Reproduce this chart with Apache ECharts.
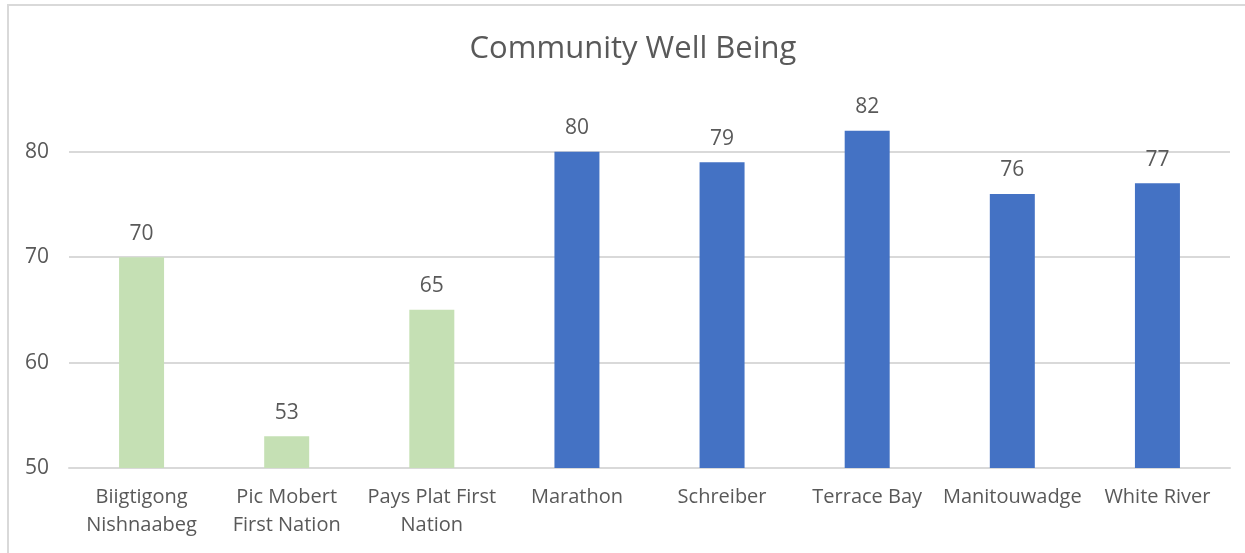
<!DOCTYPE html>
<html>
<head>
<meta charset="utf-8">
<script src="https://cdn.jsdelivr.net/npm/echarts@6/dist/echarts.min.js"></script>
<style>
  html, body { margin: 0; padding: 0; background: #ffffff; }
  #chart { width: 1245px; height: 553px; }
</style>
</head>
<body>
<div id="chart"></div>
<script>
// Community Well Being scores by community
const communities = [
  'Biigtigong\nNishnaabeg',
  'Pic Mobert\nFirst Nation',
  'Pays Plat First\nNation',
  'Marathon',
  'Schreiber',
  'Terrace Bay',
  'Manitouwadge',
  'White River'
];
const scores = [70, 53, 65, 80, 79, 82, 76, 77];
// First Nations communities are drawn in green, the others in blue
const isFirstNation = [true, true, true, false, false, false, false, false];
const yTicks = [50, 60, 70, 80];

const GREEN = '#C5E0B4';
const BLUE = '#4472C4';
const TEXT = '#595959';
const FONT = '"Open Sans", sans-serif';

const chart = echarts.init(document.getElementById('chart'));

chart.setOption({
  animation: false,
  backgroundColor: '#ffffff',
  graphic: [{
    type: 'rect',
    silent: true,
    shape: { x: 8, y: 5, width: 1300, height: 600 },
    style: { fill: 'none', stroke: '#D9D9D9', lineWidth: 2 }
  }],
  title: {
    text: 'Community Well Being',
    left: 628,
    top: 29,
    textAlign: 'center',
    textStyle: { fontFamily: FONT, fontSize: 31, fontWeight: 'normal', color: TEXT }
  },
  grid: { left: 69, right: 15, top: 99, bottom: 85, containLabel: false },
  xAxis: {
    type: 'category',
    data: communities,
    axisLine: { lineStyle: { color: '#D9D9D9', width: 2 } },
    axisTick: { show: false },
    axisLabel: {
      interval: 0,
      margin: 15,
      fontFamily: FONT,
      fontSize: 20,
      lineHeight: 28,
      color: TEXT
    }
  },
  yAxis: {
    type: 'value',
    min: yTicks[0],
    max: 85,
    interval: 10,
    axisLine: { show: false },
    axisTick: { show: false },
    splitLine: { showMaxLine: false, lineStyle: { color: '#D9D9D9', width: 2 } },
    axisLabel: {
      margin: 20,
      showMaxLabel: false,
      fontFamily: FONT,
      fontSize: 21,
      color: TEXT,
      formatter: v => (yTicks.includes(v) ? String(v) : '')
    }
  },
  series: [{
    type: 'bar',
    barWidth: 45,
    data: scores.map((v, i) => ({
      value: v,
      itemStyle: { color: isFirstNation[i] ? GREEN : BLUE }
    })),
    label: {
      show: true,
      position: 'top',
      distance: 13,
      fontFamily: FONT,
      fontSize: 21,
      color: TEXT
    }
  }]
});
</script>
</body>
</html>
